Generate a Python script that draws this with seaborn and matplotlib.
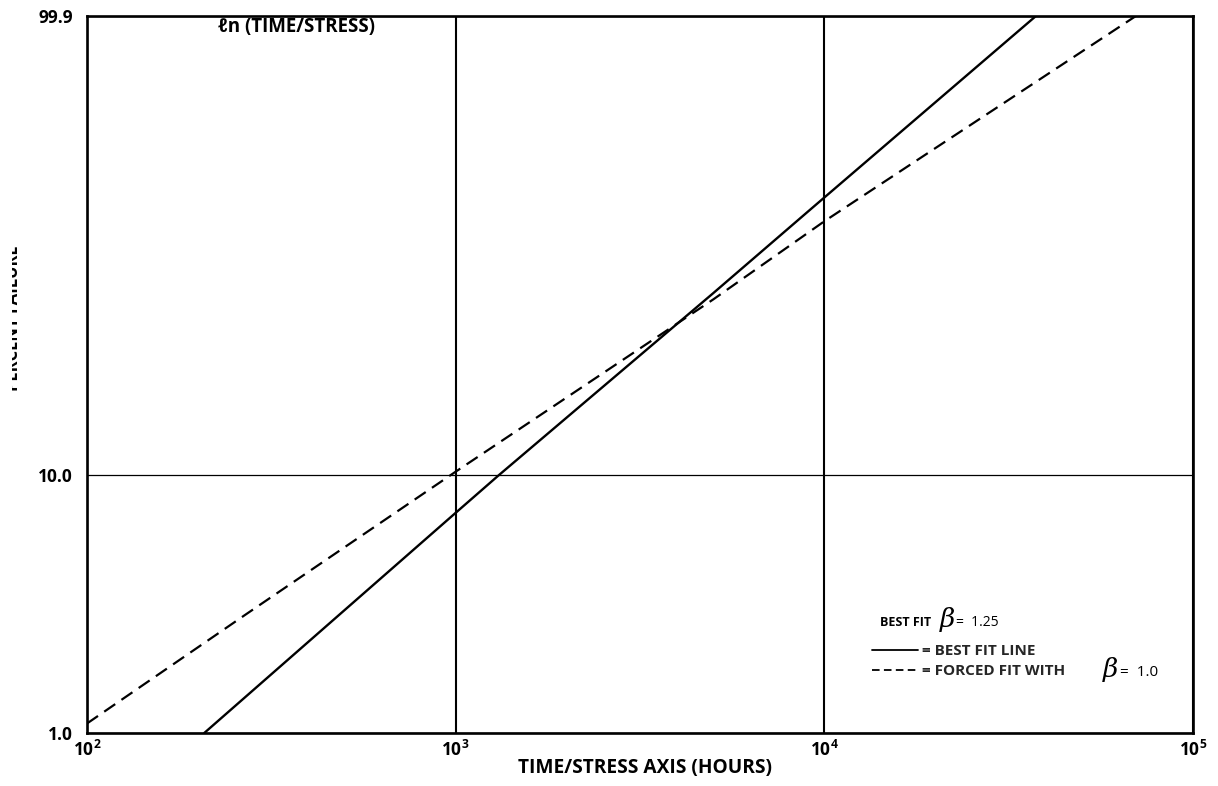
import numpy as np
import pandas as pd
import matplotlib
matplotlib.use("Agg")
import matplotlib.pyplot as plt
import seaborn as sns
from matplotlib.lines import Line2D
from matplotlib.ticker import NullLocator, FixedLocator
from matplotlib.transforms import Bbox

# ---------------- data ----------------
best_hours = [208, 1000, 1310, 5000, 9200, 37500]
best_pct = [1.0, 7.2, 10.0, 42.5, 69.6, 99.9]

forced_hours = [100, 268, 1000, 5000, 10000, 70000]
forced_pct = [1.09, 2.9, 10.3, 40.7, 65.5, 99.9]

x_ticks = [1e2, 1e3, 1e4, 1e5]
x_tick_labels = [r"$\mathbf{10^{2}}$", r"$\mathbf{10^{3}}$", r"$\mathbf{10^{4}}$", r"$\mathbf{10^{5}}$"]
y_ticks = [1.0, 10.0, 99.9]
y_tick_labels = ["1.0", "10.0", "99.9"]

# ---------------- style ----------------
sns.set_theme(style="white")
FONT = ["Open Sans", "DejaVu Sans"]
plt.rcParams["font.family"] = FONT
plt.rcParams["font.weight"] = "bold"
plt.rcParams["mathtext.fontset"] = "custom"
plt.rcParams["mathtext.bf"] = "Open Sans:bold"
plt.rcParams["mathtext.rm"] = "Open Sans:bold"

W, H = 1218, 786
fig = plt.figure(figsize=(W / 100, H / 100), dpi=100)
fig.patch.set_facecolor("white")
L, R, T, B = 87, 1193, 16, 733
ax = fig.add_axes([L / W, 1 - B / H, (R - L) / W, (B - T) / H])
ax.set_facecolor("white")


def weib_fwd(p):
    p = np.clip(np.asarray(p, dtype=float), 1e-6, 100 - 1e-6)
    return np.log(-np.log(1 - p / 100.0))


def weib_inv(w):
    return 100.0 * (1 - np.exp(-np.exp(np.asarray(w, dtype=float))))


ax.set_xscale("log")
ax.set_yscale("function", functions=(weib_fwd, weib_inv))

df_best = pd.DataFrame({"hours": best_hours, "pct": best_pct})
df_forced = pd.DataFrame({"hours": forced_hours, "pct": forced_pct})

sns.lineplot(data=df_best, x="hours", y="pct", ax=ax, color="black",
             linewidth=1.7, sort=False, zorder=3)
sns.lineplot(data=df_forced, x="hours", y="pct", ax=ax, color="black",
             linewidth=1.6, sort=False, zorder=3, linestyle=(0, (6.0, 3.4)))

ax.set_xlim(1e2, 1e5)
ax.set_ylim(1.0, 99.9)

ax.xaxis.set_major_locator(FixedLocator(x_ticks))
ax.xaxis.set_minor_locator(NullLocator())
ax.yaxis.set_major_locator(FixedLocator(y_ticks))
ax.yaxis.set_minor_locator(NullLocator())
ax.set_xticklabels(x_tick_labels)
ax.set_yticklabels(y_tick_labels)
ax.tick_params(axis="both", length=0, labelsize=12.5, colors="black")
ax.tick_params(axis="x", pad=5)
ax.tick_params(axis="y", pad=10)
for lab in ax.get_yticklabels():
    lab.set_fontweight("bold")

ax.xaxis.grid(True, color="black", linewidth=1.5)
ax.yaxis.grid(True, color="black", linewidth=0.9)
ax.set_axisbelow(True)

for s in ax.spines.values():
    s.set_visible(True)
    s.set_color("black")
    s.set_linewidth(1.9)

ax.set_xlabel("TIME/STRESS AXIS (HOURS)", fontsize=13.8, fontweight="bold", color="black")
ax.xaxis.set_label_coords(0.5 + 5 / (R - L), -(758 - B) / (B - T))
ax.set_ylabel("")

# clipped y label (cut by the scan edge in the reference)
yl = fig.text(13.5 / W, 1 - 318 / H, "PERCENT FAILURE", rotation=90, ha="center",
              va="center", fontsize=12, fontweight="bold", color="black")
yl.set_clip_on(True)
yl.set_clip_box(Bbox([[12, 0], [80, H]]))

# inner title
fig.text(297 / W, 1 - 27 / H, "ℓn (TIME/STRESS)", ha="center", va="center",
         fontsize=13.5, fontweight="bold", color="black", family=FONT)

# legend block
LEG_FS = 11
fig.text(880 / W, 1 - 622 / H, "BEST FIT", ha="left", va="center",
         fontsize=9, fontweight="bold", color="black")
fig.text(947 / W, 1 - 620 / H, "β", ha="center", va="center", fontsize=19,
         family="DejaVu Serif", style="italic", fontweight="normal", color="black")
fig.text(956 / W, 1 - 622 / H, "=  1.25", ha="left", va="center", fontsize=10,
         fontweight="normal", color="black")

handles = [Line2D([], [], color="black", linewidth=1.3),
           Line2D([], [], color="black", linewidth=1.3, linestyle=(0, (4.2, 2.4)))]
leg = ax.legend(handles, ["= BEST FIT LINE", "= FORCED FIT WITH"],
                loc="upper left", bbox_to_anchor=(872 / W, 1 - 644 / H),
                bbox_transform=fig.transFigure, frameon=False, borderpad=0,
                borderaxespad=0, fontsize=LEG_FS, handlelength=3.0,
                handletextpad=0.25, labelspacing=0.4)
for t in leg.get_texts():
    t.set_fontweight("bold")
fig.text(1110 / W, 1 - 670 / H, "β", ha="center", va="center", fontsize=19,
         family="DejaVu Serif", style="italic", fontweight="normal", color="black")
fig.text(1120 / W, 1 - 672 / H, "=  1.0", ha="left", va="center", fontsize=11,
         fontweight="normal", color="black")

fig.savefig("out.png", dpi=100, facecolor="white")
